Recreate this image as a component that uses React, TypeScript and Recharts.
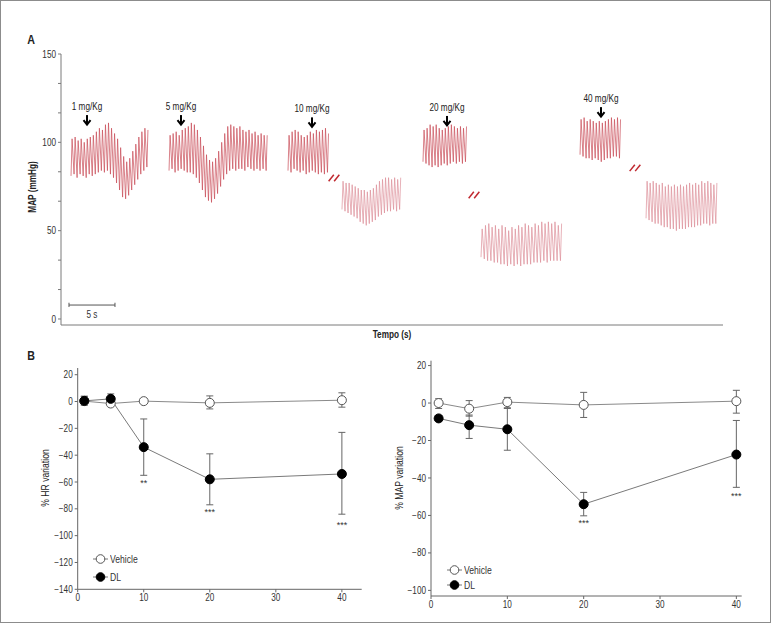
import { ComposedChart, ErrorBar, Legend, Line, ReferenceDot, ReferenceLine, XAxis, YAxis } from 'recharts';

const FONT = '"Liberation Sans", Arial, sans-serif';
const NARROW = 0.82; // the figure uses a condensed face; squeeze Liberation Sans to match
const INK = '#333';
const AXIS = '#7a7a7a';

// ---- Panel A: MAP recordings, one systolic / diastolic pair per beat (mmHg)
const T1_SYS = [102, 103, 101, 102, 100, 102, 103, 104, 106, 108, 107, 110, 111, 108, 105, 102, 97, 92, 89, 91, 95, 99, 103, 106, 108, 107];
const T1_DIA = [81, 82, 80, 82, 81, 80, 82, 81, 82, 83, 84, 83, 84, 82, 80, 77, 73, 69, 68, 70, 73, 76, 79, 82, 84, 86];
const T2_SYS = [104, 105, 106, 104, 107, 108, 109, 111, 110, 107, 103, 98, 93, 90, 89, 91, 95, 100, 105, 109, 110, 109, 108, 109, 107, 106, 107, 105, 106, 104, 105, 104, 104];
const T2_DIA = [84, 85, 83, 84, 85, 84, 83, 83, 82, 80, 77, 73, 69, 67, 66, 68, 71, 75, 79, 82, 84, 85, 84, 85, 85, 84, 86, 85, 84, 85, 84, 85, 84];
const T3_SYS = [104, 106, 107, 106, 104, 103, 104, 106, 105, 107, 106, 107, 108, 105];
const T3_DIA = [84, 83, 85, 84, 83, 84, 82, 83, 84, 83, 82, 83, 82, 83];
const T3B_SYS = [78, 77, 77, 76, 75, 74, 73, 73, 72, 73, 74, 76, 78, 79, 80, 80, 79, 80, 79, 80];
const T3B_DIA = [62, 61, 60, 59, 58, 57, 55, 54, 53, 54, 55, 56, 58, 59, 60, 61, 61, 62, 61, 62];
const T4_SYS = [107, 108, 110, 109, 110, 108, 107, 108, 109, 110, 109, 108, 109, 108, 109];
const T4_DIA = [89, 88, 87, 86, 87, 86, 87, 88, 87, 88, 89, 88, 89, 88, 89];
const T4B_SYS = [51, 53, 54, 52, 53, 51, 53, 52, 50, 52, 51, 53, 52, 54, 53, 52, 54, 53, 55, 54, 55, 54, 55, 53, 54];
const T4B_DIA = [35, 34, 33, 33, 32, 32, 31, 31, 30, 31, 30, 31, 30, 31, 31, 31, 32, 32, 32, 33, 32, 33, 33, 33, 33];
const T5_SYS = [113, 114, 112, 113, 112, 111, 112, 111, 112, 113, 114, 113, 114, 113];
const T5_DIA = [93, 92, 91, 91, 90, 91, 90, 89, 90, 91, 91, 92, 92, 91];
const T5B_SYS = [78, 77, 78, 77, 76, 77, 75, 76, 75, 76, 75, 76, 75, 76, 77, 76, 77, 76, 78, 77, 78, 77, 76, 77];
const T5B_DIA = [57, 56, 55, 54, 54, 53, 52, 52, 51, 51, 50, 51, 51, 51, 52, 52, 52, 53, 53, 54, 54, 53, 54, 54];

const TRACE_START = [1.09, 11.75, 24.69, 30.56, 39.37, 45.68, 56.45, 63.63]; // s
const TRACE_BEAT = [0.33, 0.33, 0.33, 0.33, 0.33, 0.36, 0.33, 0.33]; // s per beat
const TRACE_AFTER = [false, false, false, true, false, true, false, true];

const DOSE_LABELS = ['1 mg/Kg', '5 mg/Kg', '10 mg/Kg', '20 mg/Kg', '40 mg/Kg'];
const DOSE_T = [2.83, 13.05, 27.3, 41.98, 58.73];
const DOSE_MAP = [112.6, 112.6, 111.3, 112.1, 117.1];
const BREAK_T = [29.69, 44.92, 62.43];
const BREAK_MAP = [79.8, 70.2, 85.5];
const MAP_TICKS = [0, 16.67, 33.33, 50, 66.67, 83.33, 100, 116.67, 133.33, 150];

// ---- Panel B: % variation vs dose (mg/Kg), errors as [minus, plus]
const DOSES = [1, 5, 10, 20, 40];
const HR_VEH = [0.3, -1.5, 0.3, -1, 1];
const HR_VEH_ERR = [[3, 3.5], [1, 1], [1, 1], [4.5, 5.2], [5.2, 5.5]];
const HR_DL = [0.5, 2, -34, -58, -54];
const HR_DL_ERR = [[3, 3.5], [3.7, 3.7], [21, 21], [19, 19], [30, 31]];
const HR_SIG_DOSE = [10, 20, 40];
const HR_SIG_Y = [-61, -82, -92];
const HR_SIG = ['**', '***', '***'];

const MAP_VEH = [0, -3, 0.5, -1, 1];
const MAP_VEH_ERR = [[2.9, 2.3], [4, 4.3], [3.4, 2.5], [6.7, 6.7], [6.4, 5.8]];
const MAP_DL = [-8.2, -11.8, -14, -54, -27.5];
const MAP_DL_ERR = [[1.5, 1.5], [7.1, 5.4], [11.2, 11.5], [6.2, 6.3], [17.5, 18.2]];
const MAP_SIG_DOSE = [20, 40];
const MAP_SIG_Y = [-64, -49.5];
const MAP_SIG = ['***', '***'];

const minus = (v: number) => String(v).replace('-', '\u2212');

// condensed tick label; `below` = x axis (text hangs under the tick)
const narrowTick = (fmt: (v: number) => string, below: boolean) => (props: any) => (
  <text
    transform={`translate(${props.x},${props.y}) scale(${NARROW},1)`}
    textAnchor={below ? 'middle' : 'end'}
    dy={below ? '0.71em' : '0.355em'}
    fontSize={10}
    fontFamily={FONT}
    fill={INK}
  >
    {fmt(props.payload.value)}
  </text>
);

const traces = [
  [T1_SYS, T1_DIA],
  [T2_SYS, T2_DIA],
  [T3_SYS, T3_DIA],
  [T3B_SYS, T3B_DIA],
  [T4_SYS, T4_DIA],
  [T4B_SYS, T4B_DIA],
  [T5_SYS, T5_DIA],
  [T5B_SYS, T5B_DIA],
].map(([sys, dia], k) =>
  sys.flatMap((s, i) => {
    const t = TRACE_START[k] + i * TRACE_BEAT[k];
    return [
      { t, v: dia[i] },
      { t: t + TRACE_BEAT[k] * 0.35, v: s },
    ];
  }),
);

function DoseMark({ cx, cy, text }: { cx?: number; cy?: number; text: string }) {
  if (cx == null || cy == null) return null;
  return (
    <g>
      <text
        transform={`translate(${cx},${cy - 10}) scale(${NARROW},1)`}
        textAnchor="middle"
        fontSize={10}
        fontFamily={FONT}
        fill="#222"
      >
        {text}
      </text>
      <line x1={cx} y1={cy - 5} x2={cx} y2={cy + 4} stroke="#000" strokeWidth={2} />
      <polyline points={`${cx - 3.5},${cy} ${cx},${cy + 4.5} ${cx + 3.5},${cy}`} fill="none" stroke="#000" strokeWidth={2} />
    </g>
  );
}

function ScaleBarLabel({ viewBox }: any) {
  if (!viewBox) return null;
  const cx = viewBox.x + viewBox.width / 2;
  const y = viewBox.y + viewBox.height + 13;
  return (
    <text transform={`translate(${cx},${y}) scale(${NARROW},1)`} textAnchor="middle" fontSize={10} fontFamily={FONT} fill={INK}>
      5 s
    </text>
  );
}

function PanelA() {
  return (
    <ComposedChart width={771} height={345} margin={{ top: 54, right: 48, bottom: 0, left: 31 }}>
      <XAxis type="number" dataKey="t" domain={[0, 72]} ticks={[]} tick={false} tickLine={false} stroke={AXIS} height={20} />
      <YAxis
        type="number"
        domain={[-3.4, 150]}
        ticks={MAP_TICKS}
        interval={0}
        width={30}
        tickSize={3}
        tickMargin={2}
        stroke={AXIS}
        tick={narrowTick((v) => (v % 50 === 0 ? String(v) : ''), false)}
      />
      {traces.map((d, k) => (
        <Line
          key={k}
          data={d}
          dataKey="v"
          type="linear"
          dot={false}
          stroke={TRACE_AFTER[k] ? '#dc8f99' : '#c84c58'}
          strokeWidth={0.7}
          isAnimationActive={false}
        />
      ))}
      {BREAK_T.map((t, i) =>
        [-0.3, 0.3].map((dx) => (
          <ReferenceLine
            key={`${i}${dx}`}
            segment={[
              { x: t + dx - 0.28, y: BREAK_MAP[i] - 1.8 },
              { x: t + dx + 0.28, y: BREAK_MAP[i] + 1.8 },
            ]}
            stroke="#c0282f"
            strokeWidth={1.5}
          />
        )),
      )}
      {/* 5 s scale bar */}
      <ReferenceLine segment={[{ x: 0.87, y: 7.9 }, { x: 5.87, y: 7.9 }]} stroke="#555" label={<ScaleBarLabel />} />
      <ReferenceLine segment={[{ x: 0.87, y: 6.8 }, { x: 0.87, y: 9.2 }]} stroke="#555" />
      <ReferenceLine segment={[{ x: 5.87, y: 6.8 }, { x: 5.87, y: 9.2 }]} stroke="#555" />
      {DOSE_LABELS.map((label, i) => (
        <ReferenceDot
          key={label}
          x={DOSE_T[i]}
          y={DOSE_MAP[i]}
          r={0}
          shape={(p: any) => <DoseMark cx={p.cx} cy={p.cy} text={label} />}
        />
      ))}
    </ComposedChart>
  );
}

function SeriesKey({ rowHeight }: { rowHeight: number }) {
  const rows = [
    { name: 'Vehicle', fill: '#fff', stroke: '#555' },
    { name: 'DL', fill: '#000', stroke: '#000' },
  ];
  return (
    <div style={{ fontFamily: FONT, fontSize: 10.5, color: INK }}>
      {rows.map((r) => (
        <div key={r.name} style={{ display: 'flex', alignItems: 'center', height: rowHeight }}>
          <svg width={15} height={10} style={{ marginRight: 2 }}>
            <line x1={0} y1={5} x2={15} y2={5} stroke="#777" />
            <circle cx={7.5} cy={5} r={4.3} fill={r.fill} stroke={r.stroke} />
          </svg>
          <span
            style={{ display: 'inline-block', color: INK, transform: `scaleX(${NARROW})`, transformOrigin: 'left center' }}
          >
            {r.name}
          </span>
        </div>
      ))}
    </div>
  );
}

interface VarProps {
  veh: number[];
  vehErr: number[][];
  dl: number[];
  dlErr: number[][];
  sigDose: number[];
  sigY: number[];
  sig: string[];
  width: number;
  height: number;
  margin: { top: number; right: number; bottom: number; left: number };
  xMax: number;
  yDomain: [number, number];
  yTicks: number[];
  keyPos: { left: number; top: number; rowHeight: number };
}

function VariationChart(p: VarProps) {
  const rows = DOSES.map((dose, i) => ({
    dose,
    veh: p.veh[i],
    vehErr: p.vehErr[i],
    dl: p.dl[i],
    dlErr: p.dlErr[i],
  }));
  return (
    <ComposedChart width={p.width} height={p.height} data={rows} margin={p.margin}>
      <XAxis
        type="number"
        dataKey="dose"
        domain={[0, p.xMax]}
        ticks={[0, 10, 20, 30, 40]}
        interval={0}
        tickSize={3}
        tickMargin={2}
        stroke="#666"
        tick={narrowTick(String, true)}
        height={20}
      />
      <YAxis
        type="number"
        domain={p.yDomain}
        ticks={p.yTicks}
        interval={0}
        tickSize={3}
        tickMargin={2}
        stroke="#666"
        tick={narrowTick(minus, false)}
        width={40}
      />
      <Line
        dataKey="veh"
        type="linear"
        stroke="#8a8a8a"
        strokeWidth={1}
        dot={{ r: 4.5, fill: '#fff', stroke: '#555', strokeWidth: 1 }}
        isAnimationActive={false}
      >
        <ErrorBar dataKey="vehErr" width={3.5} stroke="#666" strokeWidth={1} direction="y" />
      </Line>
      <Line
        dataKey="dl"
        type="linear"
        stroke="#7a7a7a"
        strokeWidth={1}
        dot={{ r: 4.5, fill: '#000', stroke: '#000', strokeWidth: 1 }}
        isAnimationActive={false}
      >
        <ErrorBar dataKey="dlErr" width={3.5} stroke="#666" strokeWidth={1} direction="y" />
      </Line>
      {p.sigDose.map((d, i) => (
        <ReferenceDot
          key={d}
          x={d}
          y={p.sigY[i]}
          r={0}
          shape={(s: any) => (
            <text x={s.cx} y={s.cy + 3} textAnchor="middle" fontSize={9} fontFamily={FONT} fill={INK}>
              {p.sig[i]}
            </text>
          )}
        />
      ))}
      <Legend
        layout="vertical"
        align="center"
        verticalAlign="middle"
        content={() => <SeriesKey rowHeight={p.keyPos.rowHeight} />}
        wrapperStyle={{ left: p.keyPos.left, top: p.keyPos.top, width: 90, height: 'auto' }}
      />
    </ComposedChart>
  );
}

const title = (left: number, top: number, extra: object = {}, rotate = false) => ({
  position: 'absolute' as const,
  left,
  top,
  transform: `translate(-50%, -50%)${rotate ? ' rotate(-90deg)' : ''} scaleX(${NARROW})`,
  whiteSpace: 'nowrap' as const,
  lineHeight: 1,
  fontFamily: FONT,
  color: '#222',
  ...extra,
});

export default function App() {
  return (
    <div style={{ position: 'absolute', left: 0, top: 0, width: 771, height: 624, background: '#fff', overflow: 'hidden' }}>
      <div style={{ position: 'absolute', left: 0, top: 0 }}>
        <PanelA />
      </div>
      <div style={{ position: 'absolute', left: 0, top: 340 }}>
        <VariationChart
          veh={HR_VEH}
          vehErr={HR_VEH_ERR}
          dl={HR_DL}
          dlErr={HR_DL_ERR}
          sigDose={HR_SIG_DOSE}
          sigY={HR_SIG_Y}
          sig={HR_SIG}
          width={390}
          height={280}
          margin={{ top: 28, right: 28.3, bottom: 10.7, left: 37.7 }}
          xMax={43}
          yDomain={[-140, 25]}
          yTicks={[-140, -120, -100, -80, -60, -40, -20, 0, 20]}
          keyPos={{ left: 93, top: 210, rowHeight: 18 }}
        />
      </div>
      <div style={{ position: 'absolute', left: 380, top: 340 }}>
        <VariationChart
          veh={MAP_VEH}
          vehErr={MAP_VEH_ERR}
          dl={MAP_DL}
          dlErr={MAP_DL_ERR}
          sigDose={MAP_SIG_DOSE}
          sigY={MAP_SIG_Y}
          sig={MAP_SIG}
          width={391}
          height={284}
          margin={{ top: 20.7, right: 29.3, bottom: 8, left: 11 }}
          xMax={40.7}
          yDomain={[-103, 22.6]}
          yTicks={[-100, -80, -60, -40, -20, 0, 20]}
          keyPos={{ left: 67, top: 222, rowHeight: 15.6 }}
        />
      </div>

      <div style={title(31, 39, { fontWeight: 700, fontSize: 13 })}>A</div>
      <div style={title(31, 355, { fontWeight: 700, fontSize: 13 })}>B</div>
      <div style={title(33, 187, { fontWeight: 700, fontSize: 10 }, true)}>MAP (mmHg)</div>
      <div style={title(392, 335, { fontWeight: 700, fontSize: 10 })}>Tempo (s)</div>
      <div style={title(45, 478, { fontSize: 10.5 }, true)}>% HR variation</div>
      <div style={title(399, 478, { fontSize: 10.5 }, true)}>% MAP variation</div>

      <div style={{ position: 'absolute', left: 0, top: 0, width: 771, height: 623, boxSizing: 'border-box', border: '1px solid #8c8c8c', pointerEvents: 'none' }} />
    </div>
  );
}
